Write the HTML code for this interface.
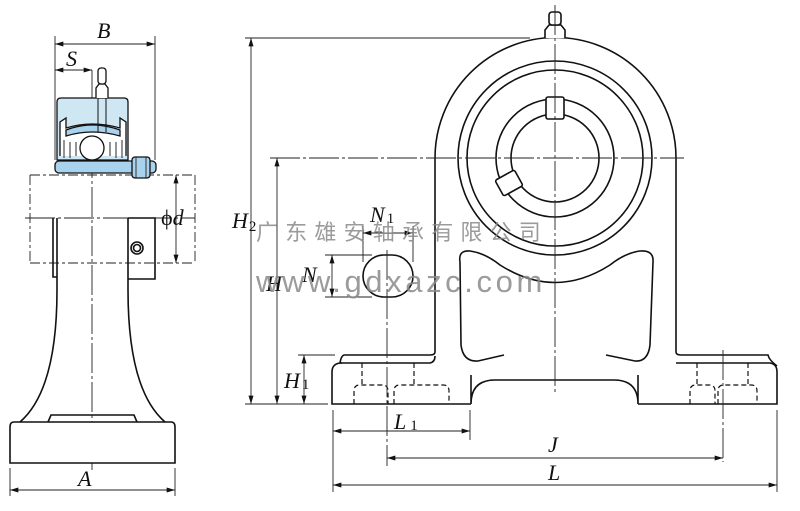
<!DOCTYPE html>
<html><head><meta charset="utf-8"><style>
html,body{margin:0;padding:0;background:#fff;width:800px;height:511px;overflow:hidden}
svg{display:block}
.t{font-family:"Liberation Serif",serif;font-style:italic;font-size:22px;fill:#111}
.s{font-family:"Liberation Serif",serif;font-size:15px;fill:#111;font-style:normal}
</style></head><body>
<svg width="800" height="511" viewBox="0 0 800 511" xmlns="http://www.w3.org/2000/svg">
<defs>
<marker id="a" viewBox="0 0 10 6" refX="10" refY="3" markerWidth="9" markerHeight="5" orient="auto-start-reverse" markerUnits="userSpaceOnUse"><path d="M0,0 L10,3 L0,6 Z" fill="#111"/></marker>
</defs>
<g fill="none" stroke="#111" stroke-width="1.6">
<path d="M435,352 L435,158 A120.5,120.5 0 0 1 676,158 L676,352"/>
<circle cx="555" cy="158" r="97"/>
<circle cx="555" cy="158" r="88"/>
<circle cx="555" cy="158" r="59"/>
<circle cx="555" cy="158" r="44"/>
<rect x="546" y="97" width="18" height="22" rx="2" fill="#fff"/>
<g transform="rotate(61 509 183)"><rect x="500" y="172" width="18" height="22" rx="2" fill="#fff"/></g>
<path d="M545,38 L545,30 L549,25 L561,25 L565,30 L565,38" fill="#fff"/>
<rect x="549" y="12" width="12" height="13" rx="3" fill="#fff"/>
<path d="M435,352 Q435,355 430,355 L344,355 Q341,356 340,363 L342,363"/>
<path d="M340,363 L430,363 Q435,362 435,356"/>
<path d="M340,363 Q332,364 332,372 L332,404 L471,404"/>
<path d="M471,375 L471,404 Q471,380 495,380 L614,380 Q638,380 638,404 L638,375"/>
<path d="M638,404 L777,404 L777,372 Q777,364 770,363 L676,363"/>
<path d="M676,352 Q676,355 681,355 L768,355 Q769,360 777,366"/>
<path d="M460,262 Q458,250 470,251 Q485,253 500,265 Q555,300 610,265 Q625,253 640,251 Q654,250 653,262 L650,345 Q648,362 635,361 L606,355"/>
<path d="M460,262 L461,345 Q463,362 478,361 L504,355"/>
<rect x="363" y="255" width="50" height="42" rx="21"/>
</g>
<g fill="none" stroke="#111" stroke-width="1.2" stroke-dasharray="5,3">
<path d="M362,363 L362,385 M414,363 L414,385"/>
<path d="M354,404 L354,391 Q354,385 360,385 L382,385 Q388,385 388,391 L388,404"/>
<path d="M394,404 L394,391 Q394,385 400,385 L443,385 Q449,385 449,391 L449,404"/>
<path d="M697,363 L697,385 M748,363 L748,385"/>
<path d="M690,404 L690,391 Q690,385 696,385 L709,385 Q715,385 715,391 L715,404"/>
<path d="M718,404 L718,391 Q718,385 724,385 L751,385 Q757,385 757,391 L757,404"/>
<path d="M74,422 L74,445 M110,422 L110,445"/>
<path d="M30,463 L30,451 Q30,445 36,445 L62,445 Q68,445 68,451 L68,463"/>
<path d="M68,463 L68,451 Q68,445 74,445 L110,445 Q116,445 116,451 L116,463"/>
<path d="M116,463 L116,451 Q116,445 122,445 L149,445 Q155,445 155,451 L155,463"/>
</g>
<g fill="none" stroke="#222" stroke-width="0.9" stroke-dasharray="30,3,3,3">
<path d="M555,5 L555,392"/>
<path d="M270,158 L684,158"/>
<path d="M387,250 L387,466"/>
<path d="M723,350 L723,462"/>
<path d="M92,70 L92,470"/>
<path d="M25,218 L195,218"/>
</g>
<g fill="none" stroke="#222" stroke-width="0.9" stroke-dasharray="10,3,3,3">
<path d="M30,175 L195,175 M30,263 L195,263 M30,175 L30,263 M195,175 L195,263"/>
</g>
<g fill="none" stroke="#222" stroke-width="0.9">
<path d="M245,38 L530,38 M270,158 L285,158 M245,404 L328,404 M298,355 L335,355"/>
<path d="M251,38 L251,404" marker-start="url(#a)" marker-end="url(#a)"/>
<path d="M277,158 L277,404" marker-start="url(#a)" marker-end="url(#a)"/>
<path d="M304,355 L304,404" marker-start="url(#a)" marker-end="url(#a)"/>
<path d="M325,255 L372,255 M325,297 L372,297"/>
<path d="M332,255 L332,297" marker-start="url(#a)" marker-end="url(#a)"/>
<path d="M363,226 L363,262 M413,226 L413,262"/>
<path d="M363,233 L413,233" marker-start="url(#a)" marker-end="url(#a)"/>
<path d="M333,410 L333,492 M777,410 L777,492 M470,410 L470,440"/>
<path d="M333,431 L470,431" marker-start="url(#a)" marker-end="url(#a)"/>
<path d="M387,458 L723,458" marker-start="url(#a)" marker-end="url(#a)"/>
<path d="M333,485 L777,485" marker-start="url(#a)" marker-end="url(#a)"/>
<path d="M55,36 L55,160 M155,36 L155,160"/>
<path d="M55,44 L155,44" marker-start="url(#a)" marker-end="url(#a)"/>
<path d="M55,70 L92,70" marker-start="url(#a)" marker-end="url(#a)"/>
<path d="M176,175 L176,263" marker-start="url(#a)" marker-end="url(#a)"/>
<path d="M10,468 L10,496 M175,468 L175,496"/>
<path d="M10,490 L175,490" marker-start="url(#a)" marker-end="url(#a)"/>
</g>
<g fill="none" stroke="#111" stroke-width="1.6">
<path d="M57,218 L57,290 Q57,390 20,422"/>
<path d="M128,218 L128,290 Q128,390 165,422"/>
<path d="M53,218 L53,277 L57,277"/>
<path d="M128,218 L155,218 L155,279 L128,279"/>
<circle cx="137" cy="248" r="6"/><circle cx="137" cy="248" r="3.5"/>
<path d="M14,422 L171,422 Q175,422 175,427 L175,463 L10,463 L10,427 Q10,422 14,422 Z" fill="#fff"/>
<path d="M48,422 L51,415 L134,415 L137,422"/>
</g>
<g stroke="#111" stroke-width="1.3">
<path d="M57,160 L57,102 Q57,98 61,98 L124,98 Q128,98 128,102 L128,160 Z" fill="#cfe6f3"/>
<path d="M60,156 L60,122 L66,118 L66,128 Q92,120 120,128 L120,118 L126,122 L126,156" fill="#ffffff"/>
<path d="M66,130 Q92,120 120,130 L120,136 Q92,128 66,136 Z" fill="#a9d3ec"/>
<circle cx="92" cy="148" r="12" fill="#fff"/>
<path d="M64,158 L64,140 M70,158 L70,142 M76,156 L76,142 M110,156 L110,142 M116,158 L116,142 M122,158 L122,140" stroke-width="0.9"/>
<rect x="55" y="161" width="101" height="12" rx="4" fill="#a9d3ec"/>
<rect x="132" y="157" width="18" height="21" rx="3" fill="#a9d3ec"/>
<path d="M136,157 L136,178 M146,157 L146,178" stroke-width="0.8"/>
<path d="M98,98 L98,132 M106,98 L106,132" stroke-width="1"/>
<path d="M96,98 L96,88 L99,84 L105,84 L108,88 L108,98" fill="#fff"/>
<rect x="98" y="68" width="8" height="16" rx="3" fill="#fff"/>
</g>
<text class="t" x="97" y="38">B</text>
<text class="t" x="66" y="66">S</text>
<text class="t" x="161" y="225"><tspan style="font-style:normal">ϕ</tspan>d</text>
<text class="t" x="78" y="486">A</text>
<text class="t" x="232" y="228">H<tspan class="s" dx="1" dy="3">2</tspan></text>
<text class="t" x="266" y="291">H</text>
<text class="t" x="302" y="282">N</text>
<text class="t" x="370" y="222">N<tspan class="s" dx="2" dy="1">1</tspan></text>
<text class="t" x="284" y="388">H<tspan class="s" dx="2" dy="1">1</tspan></text>
<text class="t" x="394" y="429">L<tspan class="s" dx="4" dy="1">1</tspan></text>
<text class="t" x="548" y="452">J</text>
<text class="t" x="548" y="480">L</text>
<text x="256" y="240" style="font-family:'Noto Sans CJK SC','WenQuanYi Zen Hei',sans-serif;font-size:22px;letter-spacing:7.2px;fill:#8a8a8a;opacity:0.85">广东雄安轴承有限公司</text>
<text x="256" y="292" style="font-family:'Liberation Sans',sans-serif;font-size:31px;letter-spacing:3.6px;fill:#8a8a8a;opacity:0.85">www.gdxazc.com</text>
</svg>
</body></html>
